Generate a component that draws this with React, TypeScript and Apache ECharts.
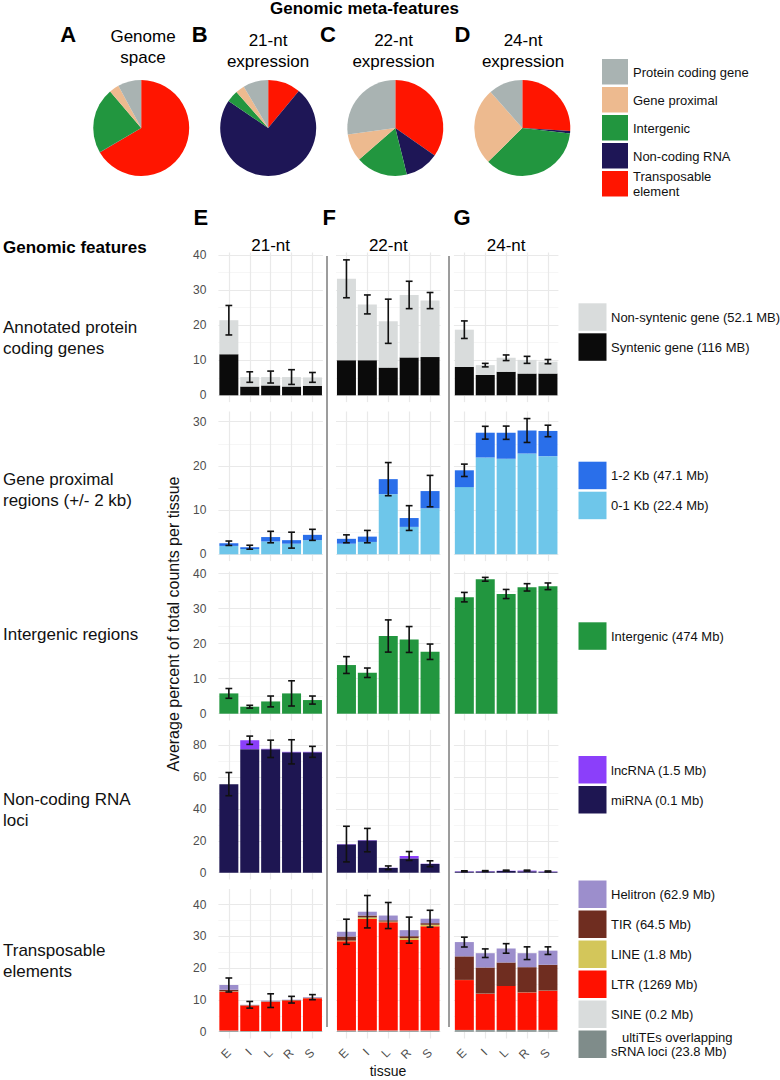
import React, { useEffect, useRef } from "react";
import * as echarts from "echarts";

const FONT = "'Liberation Sans', Arial, Helvetica, sans-serif";

// ---------------- data ----------------
const tissues = ["E", "I", "L", "R", "S"];
const sizeClasses = ["21-nt", "22-nt", "24-nt"];

// Pie charts (percent of genome / expression), legend order
const metaFeatures = ["Protein coding gene", "Gene proximal", "Intergenic", "Non-coding RNA", "Transposable element"];
const metaColors = ["#a9b3b2", "#edba8f", "#22963f", "#1e1656", "#ff1500"];
const pieTitles = ["Genome\nspace", "21-nt\nexpression", "22-nt\nexpression", "24-nt\nexpression"];
const pieLetters = ["A", "B", "C", "D"];
const pieGenome = [7.9, 3.3, 22.2, 0.1, 66.5];
const pie21 = [8.5, 3.0, 4.0, 73.5, 11.0];
const pie22 = [27.1, 9.2, 17.4, 11.4, 34.6];
const pie24 = [11.5, 25.9, 35.8, 0.8, 26.0];

// Row 1: annotated protein coding genes, per size class [21, 22, 24], per tissue
const syntenicGene = [[11.7, 2.5, 2.8, 2.5, 2.7], [10.0, 10.0, 7.9, 10.8, 10.9], [8.1, 5.8, 6.7, 6.2, 6.2]];
const nonSyntenicGene = [[9.7, 2.7, 2.4, 2.7, 2.4], [23.2, 15.9, 13.2, 17.8, 16.1], [10.6, 2.8, 4.0, 3.9, 3.4]];
const geneErr = [[4.2, 1.5, 1.7, 2.1, 1.4], [5.4, 2.7, 6.3, 3.9, 2.3], [2.5, 0.5, 0.8, 1.0, 0.6]];

// Row 2: gene proximal regions
const prox01 = [[1.9, 1.2, 2.9, 2.4, 3.2], [2.4, 2.8, 13.6, 6.2, 10.4], [15.2, 21.9, 21.6, 22.8, 22.2]];
const prox12 = [[0.6, 0.4, 1.0, 0.8, 1.2], [1.1, 1.2, 3.4, 2.0, 3.9], [3.8, 5.6, 5.9, 5.2, 5.7]];
const proxErr = [[0.5, 0.45, 1.3, 1.8, 1.25], [0.9, 1.4, 3.75, 2.8, 3.55], [1.4, 1.45, 1.5, 2.7, 1.3]];

// Row 3: intergenic regions
const intergenic = [[5.8, 2.0, 3.5, 5.8, 3.9], [13.9, 11.7, 22.2, 21.2, 17.7], [33.3, 38.4, 34.2, 36.1, 36.4]];
const intergenicErr = [[1.4, 0.4, 1.55, 3.6, 1.15], [2.4, 1.35, 4.6, 3.7, 2.2], [1.35, 0.55, 1.3, 1.05, 0.95]];

// Row 4: non-coding RNA loci
const miRNA = [[55.7, 77.7, 77.6, 75.7, 75.7], [17.8, 20.3, 3.0, 9.0, 5.5], [0.7, 0.8, 1.0, 0.9, 0.6]];
const lncRNA = [[0.0, 5.6, 0.3, 0.3, 0.3], [0.2, 0.2, 0.1, 1.5, 0.15], [0.2, 0.2, 0.3, 0.4, 0.2]];
const ncErr = [[7.3, 2.6, 5.45, 7.6, 3.45], [11.2, 7.35, 1.15, 2.8, 1.85], [0.3, 0.3, 0.3, 0.3, 0.3]];

// Row 5: transposable elements
const multiTE = [[0.3, 0.2, 0.2, 0.2, 0.2], [0.3, 0.3, 0.3, 0.3, 0.3], [0.5, 0.5, 0.5, 0.5, 0.5]];
const sine = [[0.05, 0.02, 0.02, 0.02, 0.02], [0.05, 0.05, 0.05, 0.05, 0.05], [0.05, 0.05, 0.05, 0.05, 0.05]];
const ltr = [[12.25, 8.0, 9.2, 9.6, 10.3], [28.1, 35.1, 34.1, 28.5, 32.8], [15.7, 11.4, 13.8, 11.8, 12.35]];
const lineTE = [[0.1, 0.05, 0.05, 0.05, 0.05], [0.2, 0.5, 0.2, 0.6, 0.5], [0.05, 0.05, 0.05, 0.05, 0.05]];
const tir = [[0.5, 0.1, 0.1, 0.1, 0.1], [1.3, 0.6, 0.4, 0.6, 0.5], [7.4, 8.2, 7.4, 7.9, 8.1]];
const helitron = [[1.5, 0.1, 0.2, 0.1, 0.2], [1.5, 1.2, 1.5, 1.9, 1.4], [4.5, 4.5, 4.4, 4.4, 4.45]];
const teErr = [[2.2, 1.05, 2.15, 1.05, 0.8], [3.95, 5.1, 4.1, 4.1, 2.65], [1.55, 1.35, 1.5, 2.0, 1.2]];

const rowLabels = ["Annotated protein\ncoding genes", "Gene proximal\nregions (+/- 2 kb)", "Intergenic regions", "Non-coding RNA\nloci", "Transposable\nelements"];
const yTickStep = [10, 10, 10, 20, 10];

// stacks bottom -> top
const rows = [
  {
    err: geneErr,
    series: [
      { name: "Syntenic gene (116 MB)", color: "#0b0b0b", data: syntenicGene },
      { name: "Non-syntenic gene (52.1 MB)", color: "#d9dcdc", data: nonSyntenicGene },
    ],
  },
  {
    err: proxErr,
    series: [
      { name: "0-1 Kb (22.4 Mb)", color: "#6ec6ea", data: prox01 },
      { name: "1-2 Kb (47.1 Mb)", color: "#2a6fea", data: prox12 },
    ],
  },
  {
    err: intergenicErr,
    series: [{ name: "Intergenic (474 Mb)", color: "#22963f", data: intergenic }],
  },
  {
    err: ncErr,
    series: [
      { name: "miRNA (0.1 Mb)", color: "#1e1652", data: miRNA },
      { name: "lncRNA (1.5 Mb)", color: "#8b3ffa", data: lncRNA },
    ],
  },
  {
    err: teErr,
    series: [
      { name: "ultiTEs overlapping\nsRNA loci (23.8 Mb)", color: "#7f8c8a", data: multiTE },
      { name: "SINE (0.2 Mb)", color: "#d9dcdc", data: sine },
      { name: "LTR (1269 Mb)", color: "#ff1100", data: ltr },
      { name: "LINE (1.8 Mb)", color: "#d3c65a", data: lineTE },
      { name: "TIR (64.5 Mb)", color: "#6f2d20", data: tir },
      { name: "Helitron (62.9 Mb)", color: "#9c8ecc", data: helitron },
    ],
  },
];

// ---------------- layout ----------------
const colLeft = [218.4, 336, 453.9];
const colWidth = 104.5;
const rowTop = [252.5, 411.5, 571.6, 729.9, 889];
const rowZero = [395.3, 554.3, 713.7, 872.7, 1031.7];
const rowMax = [40.7, 32.3, 40.6, 89.8, 44.9];
const expandPx = 6.8;
const pieCenters = [141.2, 268.2, 395.3, 522.3];
const pieTitleX = [143, 268, 393.5, 523];
const pieTitleY = [46.7, 51.3, 51.3, 51.3];
const pieLetterX = [60.3, 191.8, 320, 454.5];
const panelLetterX = [193.4, 322.4, 453.6];
const rowLabelY = [337.6, 490, 634.3, 810.4, 961];
const legendTop = [303.3, 461.7, 622.3, 756, 880.5];

const GRID_MAJOR = "#e9e9e9";
const GRID_MINOR = "#f2f2f2";
const AXIS_TEXT = "#4d4d4d";

function buildOption() {
  const grid: any[] = [];
  const xAxis: any[] = [];
  const yAxis: any[] = [];
  const series: any[] = [];
  const graphic: any[] = [];

  const text = (x: number, y: number, t: string, o: any = {}) =>
    graphic.push({
      type: "text",
      x,
      y,
      rotation: o.rotation || 0,
      silent: true,
      style: {
        text: t,
        fontFamily: FONT,
        fontSize: o.size || 13,
        fontWeight: o.weight || "normal",
        fill: o.fill || "#111",
        align: o.align || "left",
        verticalAlign: o.va || "middle",
        lineHeight: o.lh,
      },
    });

  // ----- pies -----
  const pies = [pieGenome, pie21, pie22, pie24];
  pies.forEach((vals, p) => {
    series.push({
      type: "pie",
      center: [pieCenters[p], 128],
      radius: 48,
      startAngle: 90,
      clockwise: true,
      silent: true,
      label: { show: false },
      labelLine: { show: false },
      emphasis: { disabled: true },
      data: [4, 3, 2, 1, 0].map((k) => ({ name: metaFeatures[k], value: vals[k], itemStyle: { color: metaColors[k] } })),
    });
    text(pieTitleX[p], pieTitleY[p], pieTitles[p], { size: 17, align: "center", lh: 21, fill: "#000" });
    text(pieLetterX[p], 34.2, pieLetters[p], { size: 22, weight: "bold", fill: "#000" });
  });
  text(364.5, 8, "Genomic meta-features", { size: 17, weight: "bold", align: "center", fill: "#000" });

  // top legend
  metaFeatures.forEach((name, k) => {
    const top = 59 + k * 28;
    graphic.push({ type: "rect", silent: true, shape: { x: 602, y: top, width: 26, height: 25.5 }, style: { fill: metaColors[k] } });
    if (k === 4) {
      text(633, top + 13, "Transposable\nelement", { size: 13, lh: 15 });
    } else {
      text(633, top + 13, name, { size: 13 });
    }
  });

  // ----- bar panels -----
  rows.forEach((row, r) => {
    sizeClasses.forEach((_sz, c) => {
      const g = grid.length;
      grid.push({ left: colLeft[c], width: colWidth, top: rowTop[r], height: rowZero[r] - rowTop[r] });
      xAxis.push({
        type: "category",
        gridIndex: g,
        data: tissues,
        boundaryGap: true,
        axisLine: { show: false },
        axisTick: { show: false },
        splitLine: { show: false },
        axisLabel: {
          show: r === rows.length - 1,
          interval: 0,
          rotate: 45,
          margin: 19,
          color: AXIS_TEXT,
          fontSize: 12,
          fontFamily: FONT,
        },
      });
      yAxis.push({
        type: "value",
        gridIndex: g,
        min: 0,
        max: rowMax[r],
        interval: yTickStep[r],
        axisLine: { show: false },
        axisTick: { show: false },
        axisLabel: {
          show: c === 0,
          showMaxLabel: false,
          margin: 12,
          color: AXIS_TEXT,
          fontSize: 12,
          fontFamily: FONT,
        },
        splitLine: { show: true, showMaxLine: false, lineStyle: { color: GRID_MAJOR, width: 1.2 } },
        minorTick: { show: false, splitNumber: 2 },
        minorSplitLine: { show: true, lineStyle: { color: GRID_MINOR, width: 0.7 } },
      });
      row.series.forEach((s) => {
        series.push({
          type: "bar",
          name: s.name,
          xAxisIndex: g,
          yAxisIndex: g,
          stack: "st" + g,
          barWidth: 19,
          silent: true,
          itemStyle: { color: s.color },
          data: s.data[c],
        });
      });
      const totals = tissues.map((_t, i) => row.series.reduce((a, s) => a + s.data[c][i], 0));
      series.push({
        type: "custom",
        xAxisIndex: g,
        yAxisIndex: g,
        silent: true,
        z: 10,
        data: totals.map((t, i) => [i, t, row.err[c][i]]),
        renderItem: (_params: any, api: any) => {
          const i = api.value(0);
          const t = api.value(1);
          const e = api.value(2);
          const p1 = api.coord([i, t + e]);
          const p2 = api.coord([i, t - e]);
          const hw = 3.4;
          const style = { stroke: "#111", lineWidth: 1.6 };
          return {
            type: "group",
            children: [
              { type: "line", shape: { x1: p1[0], y1: p1[1], x2: p2[0], y2: p2[1] }, style },
              { type: "line", shape: { x1: p1[0] - hw, y1: p1[1], x2: p1[0] + hw, y2: p1[1] }, style },
              { type: "line", shape: { x1: p2[0] - hw, y1: p2[1], x2: p2[0] + hw, y2: p2[1] }, style },
            ],
          };
        },
      });
    });

    // row label
    text(3, rowLabelY[r], rowLabels[r], { size: 17, lh: 21, fill: "#111" });

    // row legend (top -> bottom = top of stack first)
    const items = row.series.slice().reverse();
    items.forEach((s, k) => {
      const top = legendTop[r] + k * 30;
      graphic.push({ type: "rect", silent: true, shape: { x: 578.5, y: top, width: 28, height: 27.5 }, style: { fill: s.color } });
      if (s.name.indexOf("\n") >= 0) {
        const parts = s.name.split("\n");
        text(622, top + 7, parts[0], { size: 13 });
        text(611, top + 21, parts[1], { size: 13 });
      } else {
        text(611, top + 14, s.name, { size: 13 });
      }
    });
  });

  // vertical grid lines (span the panel incl. lower expansion)
  const vData = Array.from({ length: 11 }, (_v, i) => "v" + i);
  rows.forEach((_row, r) => {
    sizeClasses.forEach((_sz, c) => {
      const g = grid.length;
      grid.push({ left: colLeft[c], width: colWidth, top: rowTop[r], height: rowZero[r] + expandPx - rowTop[r] });
      xAxis.push({
        type: "category",
        gridIndex: g,
        data: vData,
        boundaryGap: false,
        axisLine: { show: false },
        axisTick: { show: false },
        axisLabel: { show: false },
        splitLine: { show: true, interval: (i: number) => i % 2 === 1, lineStyle: { color: GRID_MAJOR, width: 1.2 } },
        z: 0,
      });
      yAxis.push({ type: "value", gridIndex: g, show: false });
    });
  });

  // strip labels & panel letters
  sizeClasses.forEach((sz, c) => {
    text(colLeft[c] + colWidth / 2, 245, sz, { size: 17, align: "center", fill: "#000" });
    text(panelLetterX[c], 217.5, ["E", "F", "G"][c], { size: 22, weight: "bold", fill: "#000" });
  });
  text(3, 247.7, "Genomic features", { size: 17, weight: "bold", fill: "#000" });

  // column separators
  [327, 449].forEach((x) =>
    graphic.push({ type: "line", silent: true, shape: { x1: x, y1: 256, x2: x, y2: 1027 }, style: { stroke: "#3a3a3a", lineWidth: 1 } })
  );

  // axis titles
  text(173, 624, "Average percent of total counts per tissue", { size: 16, align: "center", rotation: Math.PI / 2, fill: "#111" });
  text(388, 1071, "tissue", { size: 14, align: "center", fill: "#111" });

  return {
    animation: false,
    backgroundColor: "#ffffff",
    grid,
    xAxis,
    yAxis,
    series,
    graphic,
  };
}

export default function App() {
  const ref = useRef<HTMLDivElement>(null);
  useEffect(() => {
    document.body.style.margin = "0";
    const chart = echarts.init(ref.current as HTMLDivElement, null, { renderer: "svg" });
    chart.setOption(buildOption() as any);
    return () => chart.dispose();
  }, []);
  return <div ref={ref} style={{ width: 780, height: 1080, background: "#fff" }} />;
}
